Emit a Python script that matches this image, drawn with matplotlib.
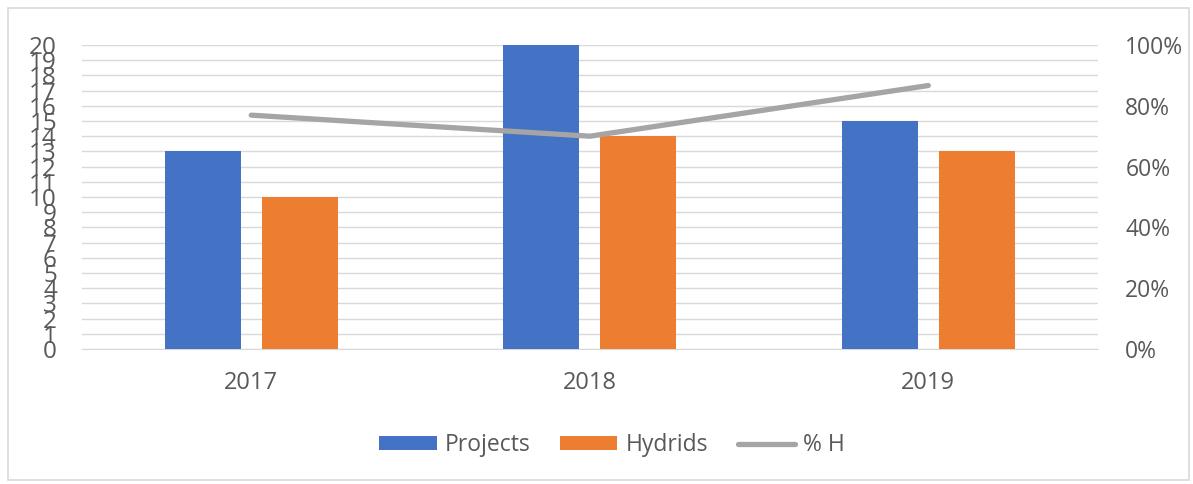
import matplotlib
matplotlib.use("Agg")
import matplotlib.pyplot as plt
import numpy as np
from matplotlib.patches import Rectangle
from matplotlib.ticker import FuncFormatter, MultipleLocator

years = ["2017", "2018", "2019"]
projects = [13, 20, 15]
hydrids = [10, 14, 13]
pct_h = [10 / 13, 14 / 20, 13 / 15]

BLUE = "#4472C4"
ORANGE = "#ED7D31"
GRAY = "#A5A5A5"
TEXT = "#595959"
GRID = "#D9D9D9"

plt.rcParams["font.family"] = ["Open Sans", "DejaVu Sans"]

fig = plt.figure(figsize=(11.93, 4.84), dpi=100)
ax = fig.add_axes([0.0687, 0.279, 0.8513, 0.628])

x = np.arange(len(years))
w = 0.225
off = 0.143
b1 = ax.bar(x - off, projects, w, color=BLUE, label="Projects", zorder=3)
b2 = ax.bar(x + off, hydrids, w, color=ORANGE, label="Hydrids", zorder=3)

ax.set_xlim(-0.5, 2.5)
ax.set_ylim(0, 20)
ax.yaxis.set_major_locator(MultipleLocator(1))
ax.grid(axis="y", color=GRID, linewidth=1, zorder=0)
ax.set_xticks(x)
ax.set_xticklabels(years)
ax.tick_params(axis="x", length=0, pad=16, labelsize=17, colors=TEXT)
ax.tick_params(axis="y", length=0, pad=18, labelsize=17.5, colors=TEXT)
for s in ax.spines.values():
    s.set_visible(False)
ax.spines["bottom"].set_visible(True)
ax.spines["bottom"].set_color(GRID)

ax2 = ax.twinx()
line, = ax2.plot(x, pct_h, color=GRAY, linewidth=3.8, label="% H", zorder=4,
                 solid_capstyle="round")
ax2.set_ylim(0, 1)
ax2.yaxis.set_major_locator(MultipleLocator(0.2))
ax2.yaxis.set_major_formatter(FuncFormatter(lambda v, p: f"{v * 100:.0f}%"))
ax2.tick_params(axis="y", length=0, pad=20, labelsize=16.5, colors=TEXT)
for s in ax2.spines.values():
    s.set_visible(False)

fig.legend([b1, b2, line], ["Projects", "Hydrids", "% H"],
           loc="center", bbox_to_anchor=(0.513, 0.08), ncol=3, frameon=False,
           fontsize=16.5, labelcolor=TEXT, handlelength=2.5, handleheight=0.6,
           columnspacing=1.3, handletextpad=0.35)

fig.patches.append(Rectangle((0.007, 0.008), 0.99, 0.975, transform=fig.transFigure,
                             fill=False, edgecolor="#D9D9D9", linewidth=1.2))

fig.savefig("out.png", dpi=100)
